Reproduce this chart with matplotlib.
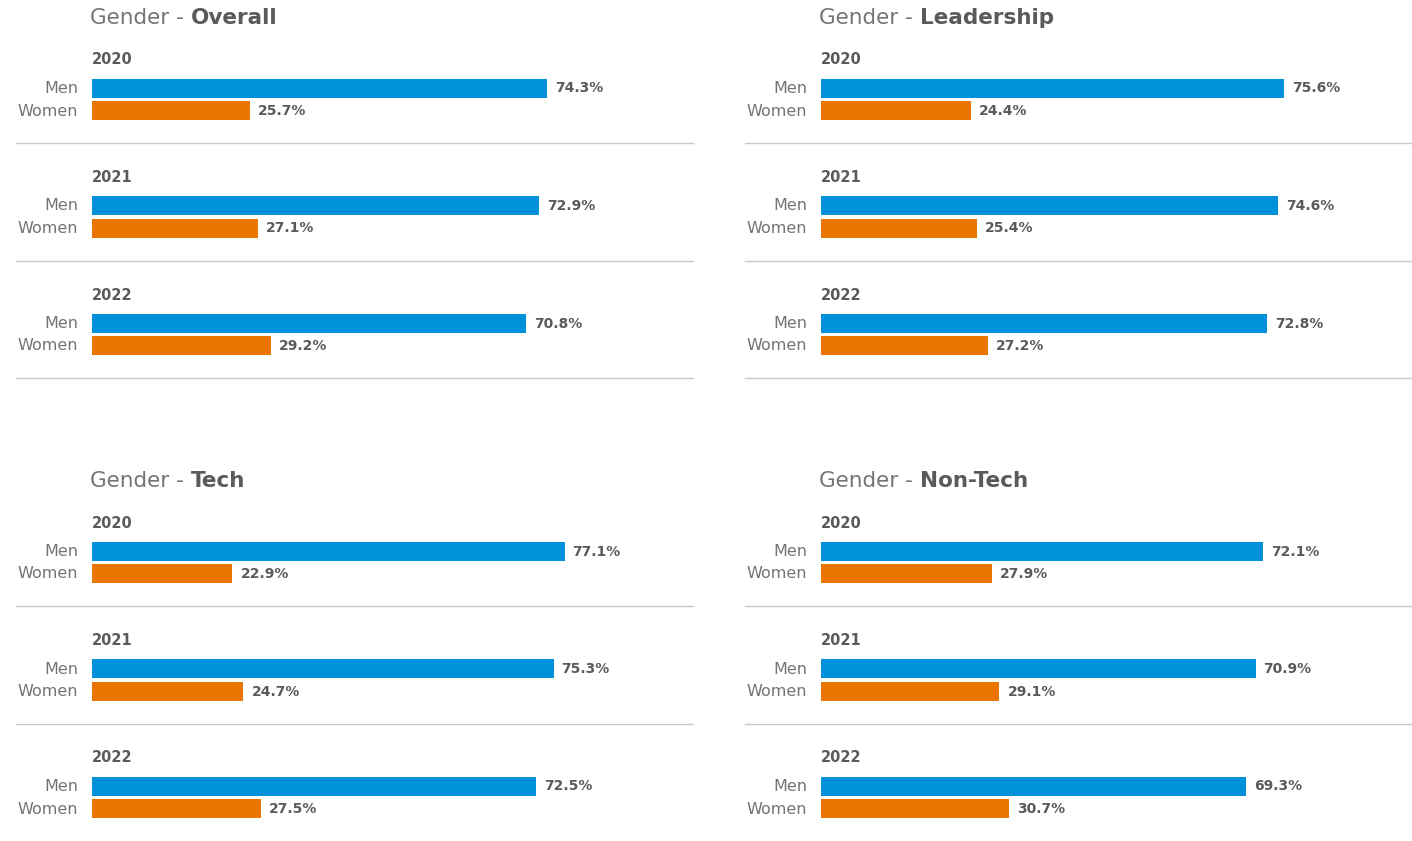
import matplotlib.pyplot as plt

# share of employees (%) per year
years = ['2020', '2021', '2022']
men_overall = [74.3, 72.9, 70.8]
women_overall = [25.7, 27.1, 29.2]
men_leadership = [75.6, 74.6, 72.8]
women_leadership = [24.4, 25.4, 27.2]
men_tech = [77.1, 75.3, 72.5]
women_tech = [22.9, 24.7, 27.5]
men_nontech = [72.1, 70.9, 69.3]
women_nontech = [27.9, 29.1, 30.7]

titles = ['Overall', 'Leadership', 'Tech', 'Non-Tech']
men_all = [men_overall, men_leadership, men_tech, men_nontech]
women_all = [women_overall, women_leadership, women_tech, women_nontech]

BLUE = '#0091DA'
ORANGE = '#EA7600'
GREY = '#747474'
DARK = '#5A5A5A'
plt.rcParams['font.family'] = ['DejaVu Sans']

FW, FH = 1412, 841
PX_PER_PCT = 6.13
fig = plt.figure(figsize=(FW / 100, FH / 100), dpi=100)

# panel origins in pixels: (left edge of bars, top of panel, right edge)
origins = [(92, 0, 693), (821, 0, 1412), (92, 463, 693), (821, 463, 1412)]
H = 380
STEP = 117.5

for i in range(4):
    left, top, right = origins[i]
    w = right - left
    ax = fig.add_axes([left / FW, 1 - (top + H) / FH, w / FW, H / FH])
    ax.set_xlim(0, w / PX_PER_PCT)
    ax.set_ylim(H, 0)
    ax.axis('off')

    t1 = ax.text(-2 / PX_PER_PCT, 17.5, 'Gender - ', fontsize=15.5, color=GREY,
                 ha='left', va='center')
    ax.annotate(titles[i], xy=(1, 0), xycoords=t1, ha='left', va='bottom',
                fontsize=15.5, fontweight='bold', color=DARK)

    for g in range(len(years)):
        y_year = 60 + STEP * g
        y_men = 88 + STEP * g
        y_women = 110.5 + STEP * g
        y_sep = 143 + STEP * g
        ax.text(0, y_year, years[g], fontsize=10.5, fontweight='bold',
                color=DARK, ha='left', va='center')
        ax.barh(y_men, men_all[i][g], height=19, color=BLUE)
        ax.barh(y_women, women_all[i][g], height=19, color=ORANGE)
        for y, lab, v in [(y_men, 'Men', men_all[i][g]), (y_women, 'Women', women_all[i][g])]:
            ax.annotate(lab, xy=(0, y + 0.5), xytext=(-14, 0), textcoords='offset pixels',
                        ha='right', va='center', fontsize=11.5, color=GREY)
            ax.annotate(f'{v}%', xy=(v, y + 0.5), xytext=(8, 0), textcoords='offset pixels',
                        ha='left', va='center', fontsize=10, fontweight='bold', color=DARK)
        if top + y_sep < FH - 5:
            ax.plot([-76 / PX_PER_PCT, w / PX_PER_PCT], [y_sep, y_sep],
                    color='#C8C8C8', lw=1, clip_on=False)

fig.savefig('out.png', dpi=100)
